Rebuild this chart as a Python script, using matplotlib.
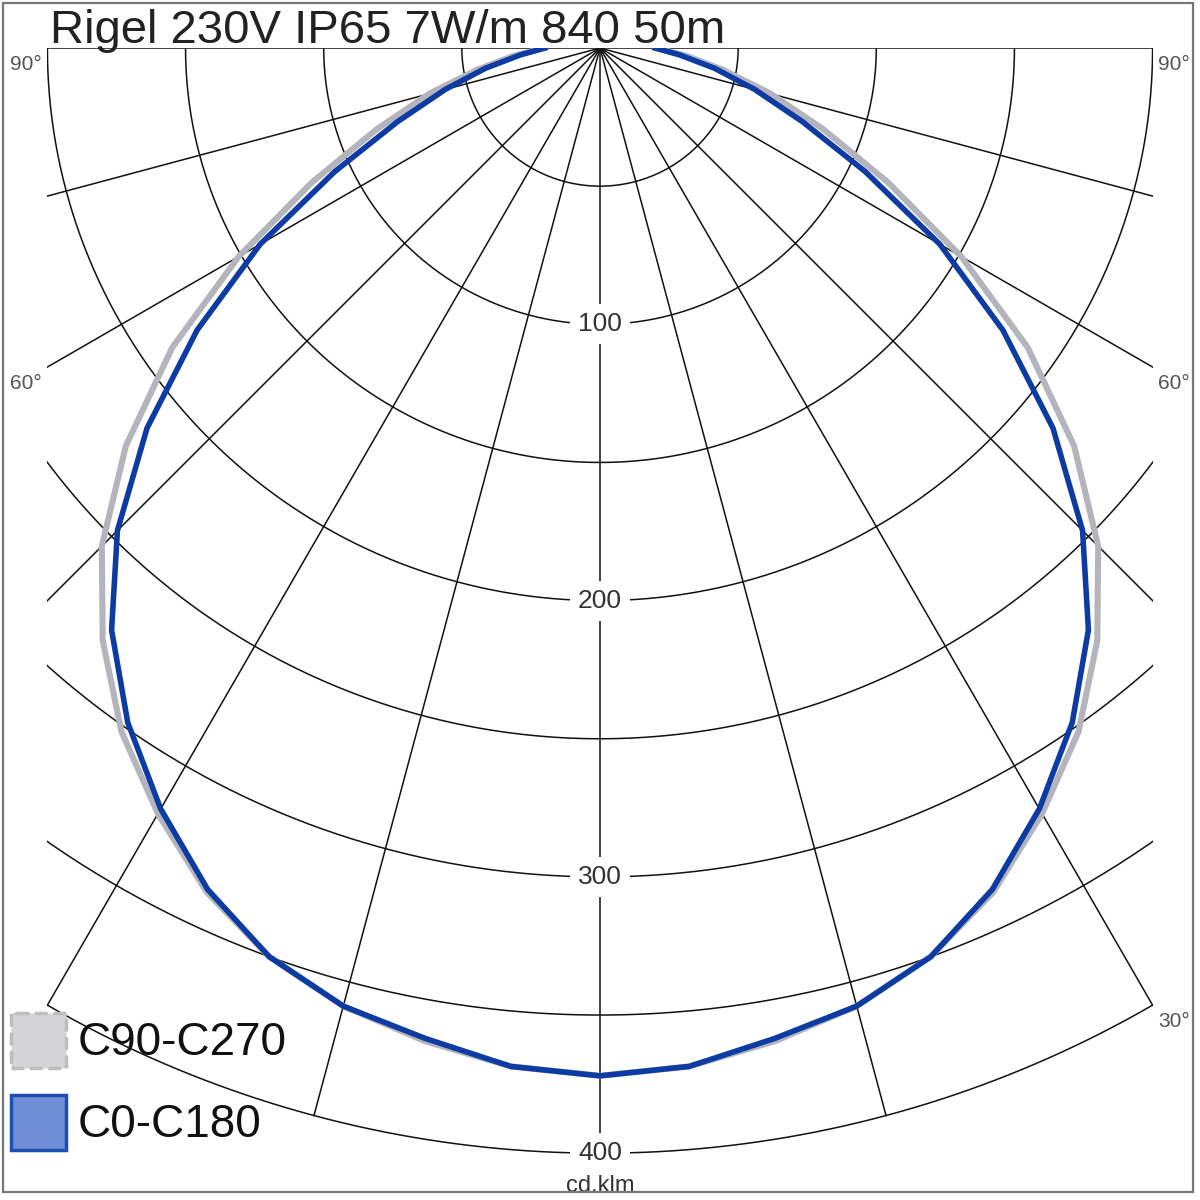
import numpy as np
import matplotlib.pyplot as plt
from matplotlib.patches import Rectangle

plt.rcParams["font.family"] = ["Liberation Sans", "DejaVu Sans"]

title = "Rigel 230V IP65 7W/m 840 50m"
unit_label = "cd.klm"

# gamma angle from nadir (deg) and luminous intensity (cd/klm)
gamma = [0, 5, 10, 15, 20, 25, 30, 35, 40, 45, 50, 55, 60, 65, 70, 75, 80, 85, 90]
c0_c180 = [372, 370, 364, 359, 350, 336, 318, 298, 275, 247, 214, 178, 142, 106, 78, 58, 42, 29, 20]
c90_c270 = [372, 370, 365, 359, 350, 337, 320, 302, 280, 255, 224, 189, 151, 115, 86, 64, 45, 31, 20]

series_names = ["C90-C270", "C0-C180"]
series_colors = ["#b4b4bc", "#0b3ba3"]

ring_values = [50, 100, 150, 200, 250, 300, 350, 400]
ring_labels = [100, 200, 300, 400]
spoke_angles = list(range(-90, 91, 15))
angle_labels = [90, 60, 30]

px = 2.763  # pixels per cd/klm
fig = plt.figure(figsize=(12, 12), dpi=100)
ax = fig.add_axes([0, 0, 1, 1])
ax.set_xlim(-600 / px, 600 / px)
ax.set_ylim(-1152 / px, 48 / px)
ax.axis("off")

clip = Rectangle((-200, -430), 400, 430, transform=ax.transData, fill=False, visible=False)
ax.add_patch(clip)

# polar grid
t = np.radians(np.linspace(-90, 90, 721))
for r in ring_values:
    ln, = ax.plot(r * np.sin(t), -r * np.cos(t), color="#111111", lw=1.1, zorder=2)
    ln.set_clip_path(clip)
for a in spoke_angles:
    ar = np.radians(a)
    ln, = ax.plot([0, 400 * np.sin(ar)], [0, -400 * np.cos(ar)], color="#111111", lw=1.1, zorder=2)
    ln.set_clip_path(clip)

for r in ring_labels:
    ax.text(0, -r, str(r), ha="center", va="center", fontsize=19, color="#333333", zorder=3,
            bbox=dict(boxstyle="square,pad=0.3", fc="white", ec="none"))

for a in angle_labels:
    yend = -200 / np.tan(np.radians(a)) if a != 90 else 0.0
    ax.text(-202, yend - 6, f"{a}°", ha="right", va="center", fontsize=15, color="#555555", zorder=3)
    ax.text(202, yend - 6, f"{a}°", ha="left", va="center", fontsize=15, color="#555555", zorder=3)

# intensity curves, mirrored onto both half planes
g = np.array(gamma, dtype=float)
for vals, color, lw, z in [(c90_c270, series_colors[0], 4.4, 4), (c0_c180, series_colors[1], 4.0, 5)]:
    v = np.array(vals, dtype=float)
    ang = np.radians(np.concatenate([-g[::-1], g[1:]]))
    rr = np.concatenate([v[::-1], v[1:]])
    ln, = ax.plot(rr * np.sin(ang), -rr * np.cos(ang), color=color, lw=lw, zorder=z,
                  solid_joinstyle="round")
    ln.set_clip_path(clip)

# title and unit
fig.text(50 / 1200, 1 - 43 / 1200, title, ha="left", va="baseline", fontsize=34, color="#222222")
fig.text(0.5, 1 - 1186 / 1200, unit_label, ha="center", va="center", fontsize=17, color="#333333")

# legend
fig.patches.append(Rectangle((11 / 1200, 1 - 1068 / 1200), 55 / 1200, 55 / 1200,
                             transform=fig.transFigure, fc="#d4d4d6", ec="#bdbdbd",
                             lw=2.5, ls="--", zorder=6))
fig.patches.append(Rectangle((11 / 1200, 1 - 1150 / 1200), 55 / 1200, 55 / 1200,
                             transform=fig.transFigure, fc="#6f8ed6", ec="#1d4fb5",
                             lw=2.5, zorder=6))
fig.text(78 / 1200, 1 - 1043 / 1200, series_names[0], ha="left", va="center", fontsize=33, color="#111111", zorder=7)
fig.text(78 / 1200, 1 - 1125 / 1200, series_names[1], ha="left", va="center", fontsize=33, color="#111111", zorder=7)

# outer frame
fig.patches.append(Rectangle((3 / 1200, 1 - 1192 / 1200), 1190 / 1200, 1189 / 1200,
                             transform=fig.transFigure, fill=False, ec="#777777", lw=1.6, zorder=10))

fig.savefig("out.png", dpi=100)
